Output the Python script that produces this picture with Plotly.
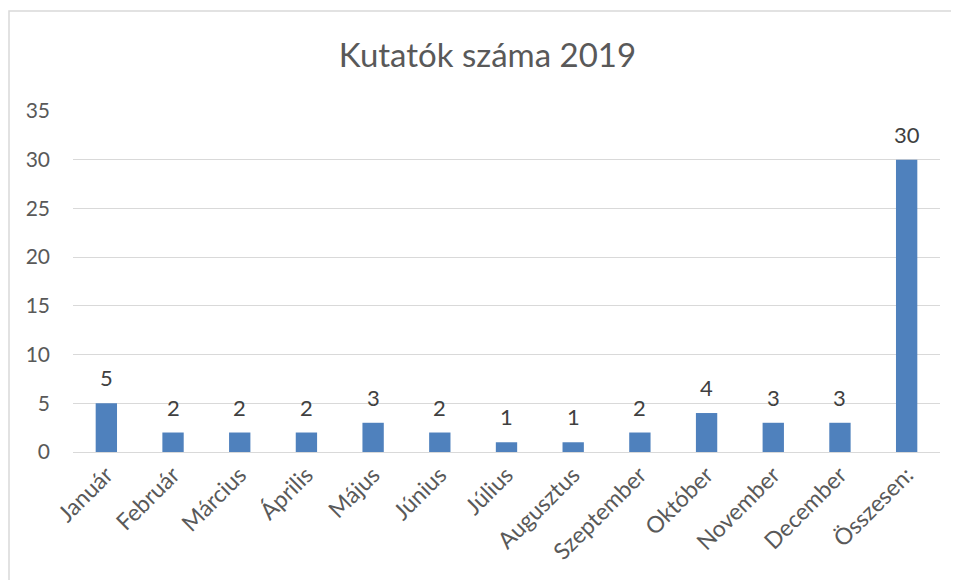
import plotly.graph_objects as go

categories = ["Január", "Február", "Március", "Április", "Május", "Június",
              "Július", "Augusztus", "Szeptember", "Október", "November",
              "December", "Összesen:"]
values = [5, 2, 2, 2, 3, 2, 1, 1, 2, 4, 3, 3, 30]
y_ticks = [0, 5, 10, 15, 20, 25, 30, 35]
title_text = "Kutatók száma 2019"

FONT = "Lato, 'Open Sans', sans-serif"

fig = go.Figure(go.Bar(
    x=categories, y=values,
    marker=dict(color="#4F81BD", line=dict(width=0)),
    width=0.32,
    hoverinfo="x+y",
))

for c, v in zip(categories, values):
    fig.add_annotation(x=c, y=v, text=str(v), showarrow=False, yanchor="bottom",
                       yshift=10, font=dict(family=FONT, size=22, color="#404040"))

# page body has an 8px margin, so the figure sits 8px right/down in the window
L, T = 65, 103
R = 959 - 932
B = 580 - 444
PW = 959 - L - R
PH = 580 - T - B

fig.update_layout(
    width=959, height=580,
    margin=dict(l=L, r=R, t=T, b=B),
    paper_bgcolor="white", plot_bgcolor="white",
    title=dict(text=title_text, x=0.5, xanchor="center", y=(580 - 47) / 580, yanchor="middle",
               font=dict(family=FONT, size=33, color="#595959")),
    showlegend=False,
    xaxis=dict(tickangle=-45, tickfont=dict(family=FONT, size=23, color="#595959"),
               showgrid=False, showline=False, ticks="", ticklen=0,
               ticklabelstandoff=4),
    yaxis=dict(range=[0, 35], tickvals=y_ticks, showgrid=True, gridcolor="#D9D9D9",
               gridwidth=1, zeroline=True, zerolinecolor="#D9D9D9", zerolinewidth=1,
               tickfont=dict(family=FONT, size=21, color="#595959"), ticks="",
               ticklabelstandoff=22),
    shapes=[dict(type="rect", xref="paper", yref="paper",
                 x0=(1 - L) / PW, x1=1.2, y0=-0.6, y1=1 + (T - 3) / PH,
                 line=dict(color="#D9D9D9", width=1.5), fillcolor="rgba(0,0,0,0)",
                 layer="below")],
)

fig.write_html("out.html")
